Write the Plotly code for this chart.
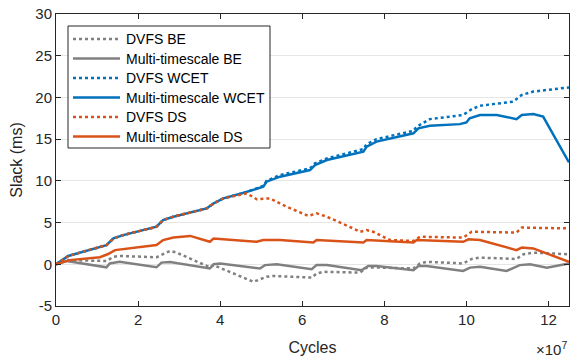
import plotly.graph_objects as go

# x values in units of 1e7 cycles
x_dvfs_be = [0, 0.26, 1.23, 1.4, 1.55, 2.45, 2.78, 2.94, 3.75, 3.84, 4.81, 5.13, 5.29, 5.68, 6.23, 6.35, 6.51, 7.41, 7.57, 7.9, 8.71, 8.87, 9.03, 9.92, 10.13, 10.33, 11.22, 11.39, 11.63, 12.5]
y_dvfs_be = [0, 0.5, 0.4, 0.9, 1.0, 0.84, 1.6, 1.4, -0.36, -0.1, -2.1, -1.5, -1.4, -1.5, -1.6, -1.1, -0.9, -1.0, -0.4, -0.4, -0.5, 0.1, 0.3, 0.1, 0.64, 0.8, 0.64, 1.2, 1.4, 1.2]

x_multi_be = [0, 0.26, 1.23, 1.31, 1.55, 2.45, 2.57, 2.78, 3.75, 3.84, 4.0, 4.97, 5.09, 5.38, 6.23, 6.35, 6.6, 7.45, 7.61, 7.81, 8.71, 8.83, 9.03, 9.92, 10.09, 10.33, 10.98, 11.3, 11.55, 11.96, 12.5]
y_multi_be = [0, 0.4, -0.36, 0.1, 0.3, -0.36, 0.2, 0.28, -0.5, 0.0, 0.1, -0.5, -0.1, 0.0, -0.6, -0.1, -0.1, -0.7, -0.2, -0.2, -0.7, -0.2, -0.2, -0.8, -0.4, -0.3, -0.8, -0.1, 0.0, -0.4, 0.1]

x_dvfs_wcet = [0, 0.3, 1.23, 1.4, 1.64, 2.45, 2.61, 2.86, 3.67, 3.84, 4.08, 4.6, 5.05, 5.13, 5.46, 6.19, 6.31, 6.6, 7.49, 7.57, 7.81, 8.71, 8.79, 9.11, 9.92, 10.13, 10.33, 11.14, 11.35, 11.63, 12.5]
y_dvfs_wcet = [0, 1.0, 2.3, 3.1, 3.5, 4.5, 5.3, 5.7, 6.7, 7.3, 7.9, 8.6, 9.4, 10.0, 10.7, 11.5, 12.1, 12.7, 13.8, 14.4, 15.0, 16.0, 16.5, 17.4, 17.9, 18.6, 19.0, 19.5, 20.3, 20.7, 21.2]

x_multi_wcet = [0, 0.3, 1.23, 1.4, 1.64, 2.45, 2.61, 2.86, 3.67, 3.84, 4.08, 4.6, 5.05, 5.13, 5.46, 6.19, 6.31, 6.6, 7.49, 7.57, 7.81, 8.71, 8.83, 9.11, 9.84, 10.0, 10.08, 10.33, 10.74, 11.22, 11.35, 11.63, 11.87, 12.5]
y_multi_wcet = [0, 1.0, 2.3, 3.1, 3.5, 4.5, 5.3, 5.7, 6.7, 7.3, 7.9, 8.6, 9.3, 9.9, 10.5, 11.3, 11.9, 12.5, 13.5, 14.1, 14.7, 15.7, 16.3, 16.6, 16.8, 17.0, 17.5, 17.9, 17.9, 17.4, 17.9, 18.0, 17.7, 12.2]

x_dvfs_ds = [0, 0.3, 1.23, 1.4, 1.64, 2.45, 2.61, 2.86, 3.67, 3.84, 4.08, 4.65, 4.89, 5.21, 5.62, 6.15, 6.35, 6.6, 7.24, 7.41, 7.57, 7.73, 8.14, 8.71, 8.87, 9.92, 10.13, 11.22, 11.35, 12.5]
y_dvfs_ds = [0, 1.0, 2.3, 3.1, 3.5, 4.5, 5.3, 5.7, 6.7, 7.3, 7.9, 8.5, 7.8, 7.9, 6.9, 5.8, 6.1, 5.7, 4.3, 3.9, 4.1, 3.9, 2.9, 2.8, 3.3, 3.2, 3.9, 3.8, 4.4, 4.3]

x_multi_ds = [0, 0.33, 1.07, 1.27, 1.44, 1.88, 2.45, 2.61, 2.86, 3.27, 3.75, 3.84, 4.89, 5.05, 5.46, 6.27, 6.35, 7.49, 7.57, 8.71, 8.79, 9.92, 10.05, 10.33, 11.22, 11.35, 11.63, 12.5]
y_multi_ds = [0, 0.5, 0.84, 1.23, 1.7, 2.0, 2.3, 2.9, 3.2, 3.4, 2.7, 3.1, 2.7, 2.9, 2.9, 2.6, 2.9, 2.6, 2.9, 2.6, 2.9, 2.7, 3.0, 2.9, 1.7, 2.0, 1.9, 0.3]

x_ticks = [0, 2, 4, 6, 8, 10, 12]
x_tick_labels = ["0", "2", "4", "6", "8", "10", "12"]
y_ticks = [-5, 0, 5, 10, 15, 20, 25, 30]
y_tick_labels = ["-5", "0", "5", "10", "15", "20", "25", "30"]

BLUE = "#0072BD"
ORANGE = "#D95319"
GRAY = "#808080"
LW = 2.5

series = [
    ("DVFS BE", x_dvfs_be, y_dvfs_be, GRAY, "dot"),
    ("Multi-timescale BE", x_multi_be, y_multi_be, GRAY, "solid"),
    ("DVFS WCET", x_dvfs_wcet, y_dvfs_wcet, BLUE, "dot"),
    ("Multi-timescale WCET", x_multi_wcet, y_multi_wcet, BLUE, "solid"),
    ("DVFS DS", x_dvfs_ds, y_dvfs_ds, ORANGE, "dot"),
    ("Multi-timescale DS", x_multi_ds, y_multi_ds, ORANGE, "solid"),
]

FONT = "Liberation Sans, Arial, sans-serif"
AX = "#262626"

W, H = 570, 360
ML, MR, MT, MB = 56, 1, 14, 54
PW, PH = W - ML - MR, H - MT - MB


def px_x(p):
    return (p - ML) / PW


def px_y(p):
    return (H - MB - p) / PH


fig = go.Figure()
for name, xs, ys, col, dash in series:
    fig.add_trace(go.Scatter(x=xs, y=ys, mode="lines", name=name, showlegend=False,
                             line=dict(color=col, width=LW, dash=dash)))

# legend box drawn in paper space (layout only)
LEG_L, LEG_R, LEG_T, LEG_B = 68, 270, 26, 148
ROW0, ROW_PITCH = 39, 19.5
SAMPLE_X0, SAMPLE_X1, TEXT_X = 73, 120, 124

shapes = [dict(type="rect", xref="paper", yref="paper",
               x0=px_x(LEG_L), x1=px_x(LEG_R), y0=px_y(LEG_B), y1=px_y(LEG_T),
               fillcolor="white", line=dict(color=AX, width=1), layer="above")]
annotations = []
for i, (name, xs, ys, col, dash) in enumerate(series):
    yc = px_y(ROW0 + i * ROW_PITCH)
    shapes.append(dict(type="line", xref="paper", yref="paper",
                       x0=px_x(SAMPLE_X0), x1=px_x(SAMPLE_X1), y0=yc, y1=yc,
                       line=dict(color=col, width=LW, dash=dash), layer="above"))
    annotations.append(dict(text=name, x=px_x(TEXT_X), y=yc, xref="paper", yref="paper",
                            xanchor="left", yanchor="middle", showarrow=False,
                            font=dict(family=FONT, size=14, color="black")))

annotations.append(dict(text="×10<sup>7</sup>", x=1.0, y=0, xref="paper", yref="paper",
                        xanchor="right", yanchor="top", yshift=-31, showarrow=False,
                        font=dict(family=FONT, size=15, color=AX)))

fig.update_layout(
    width=W, height=H,
    margin=dict(l=ML, r=MR, t=MT, b=MB),
    paper_bgcolor="white", plot_bgcolor="white",
    font=dict(family=FONT, color=AX, size=14),
    showlegend=False,
    xaxis=dict(range=[0, 12.5], tickvals=x_ticks, ticktext=x_tick_labels,
               showline=True, linecolor=AX, linewidth=1, mirror="ticks",
               ticks="inside", ticklen=5, tickcolor=AX, showgrid=False,
               zeroline=False, tickfont=dict(size=15, color=AX),
               title=dict(text="Cycles", font=dict(size=16, color=AX), standoff=14)),
    yaxis=dict(range=[-5, 30], tickvals=y_ticks, ticktext=y_tick_labels,
               showline=True, linecolor=AX, linewidth=1, mirror="ticks",
               ticks="inside", ticklen=5, tickcolor=AX, showgrid=True,
               gridcolor="#e6e6e6", gridwidth=1, zeroline=False,
               tickfont=dict(size=15, color=AX),
               title=dict(text="Slack (ms)", font=dict(size=16, color=AX), standoff=8)),
    shapes=shapes,
    annotations=annotations,
)

fig.write_html("out.html")
